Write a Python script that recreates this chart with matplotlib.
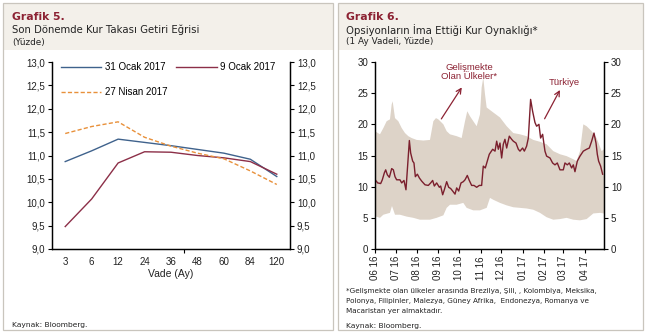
import numpy as np
import pandas as pd
import matplotlib
matplotlib.use('Agg')
import matplotlib.pyplot as plt
import matplotlib.dates as mdates
from matplotlib.patches import Rectangle
from matplotlib.ticker import FuncFormatter

# ---------------- data: Grafik 5 ----------------
maturities = ['3', '6', '12', '24', '36', '48', '60', '84', '120']
jan31 = [10.87, 11.10, 11.35, 11.28, 11.21, 11.13, 11.05, 10.92, 10.55]
jan09 = [9.48, 10.07, 10.84, 11.08, 11.07, 11.00, 10.95, 10.87, 10.60]
apr27 = [11.47, 11.62, 11.72, 11.39, 11.20, 11.05, 10.93, 10.67, 10.38]

# ---------------- data: Grafik 6 ----------------
start_date = '2016-06-01'
tr_days = [1.0, 3.9, 8.2, 10.6, 13.5, 15.5, 17.9, 20.8, 24.2, 26.6, 29.0, 31.4, 36.2, 38.7, 42.0,
           44.9, 47.4, 49.8, 51.7, 54.6, 56.5, 58.5, 61.4, 64.3, 67.6, 72.5, 77.3, 80.7, 83.6,
           86.0, 89.4, 93.3, 95.2, 98.1, 100.5, 103.9, 106.8, 109.7, 112.6, 116.0, 118.4, 121.3,
           124.7, 128.0, 130.5, 133.8, 136.7, 140.1, 143.5, 147.4, 151.2, 154.6, 157.0, 159.9,
           162.8, 165.7, 170.6, 174.0, 176.4, 178.8, 181.2, 183.6, 186.0, 188.4, 190.9, 194.7,
           198.1, 200.5, 204.4, 207.8, 210.2, 214.0, 216.5, 219.8, 222.3, 225.6, 228.5, 231.9,
           234.3, 237.7, 240.1, 243.0, 246.4, 248.8, 253.7, 257.5, 260.9, 264.3, 268.2, 273.0,
           275.4, 278.8, 281.7, 285.1, 287.5, 289.9, 293.3, 297.2, 302.0, 306.8, 310.7, 314.1,
           317.5, 320.4, 322.3, 324.2, 327.1, 330.0]
tr_vals = [11.0, 10.6, 10.5, 11.1, 12.2, 12.7, 11.9, 11.5, 12.9, 12.7, 11.6, 11.1, 11.1, 10.6, 11.0,
           9.5, 13.5, 17.4, 15.4, 14.1, 13.8, 11.6, 12.0, 11.4, 10.9, 10.3, 10.2, 10.6, 11.0,
           10.1, 10.6, 9.9, 10.1, 8.7, 9.5, 10.8, 9.9, 9.7, 9.3, 8.8, 9.8, 9.3,
           10.6, 10.8, 11.1, 11.8, 11.0, 10.2, 10.2, 9.9, 10.2, 10.2, 13.3, 13.0,
           14.1, 15.2, 16.0, 15.7, 17.3, 16.0, 17.0, 14.6, 16.8, 17.6, 16.2, 18.1,
           17.6, 17.3, 17.0, 16.0, 15.7, 16.2, 15.7, 16.5, 17.8, 24.0, 22.1, 20.3,
           19.7, 20.0, 17.8, 18.4, 15.7, 14.9, 14.6, 13.8, 13.5, 13.8, 12.7, 12.7,
           13.8, 13.5, 13.8, 13.0, 13.5, 12.4, 14.1, 14.9, 15.7, 16.0, 16.2, 17.3,
           18.6, 17.0, 15.2, 14.1, 13.3, 12.0]

up_days = [0.0, 1.4, 7.2, 12.1, 16.9, 21.7, 24.2, 25.6, 29.0, 33.8, 38.7, 43.5, 48.3, 53.2, 60.4,
           70.1, 79.7, 84.6, 88.4, 91.8, 99.1, 103.9, 108.7, 118.4, 125.6, 130.5, 133.8, 137.7,
           142.5, 147.4, 152.2, 154.6, 157.0, 159.5, 161.9, 171.5, 181.2, 190.9, 200.5, 210.2,
           219.8, 229.5, 239.2, 248.8, 258.5, 268.2, 277.8, 287.5, 292.3, 297.2, 302.0, 306.8,
           314.1, 321.3, 328.6, 332.0]
up_vals = [18.6, 18.8, 18.4, 19.4, 20.5, 20.8, 23.2, 23.7, 21.0, 20.5, 19.4, 18.6, 18.1, 17.8, 17.5,
           17.4, 17.5, 20.5, 21.0, 20.8, 20.0, 18.9, 18.4, 18.1, 17.8, 20.5, 22.1, 21.3,
           20.5, 19.7, 21.6, 25.9, 27.5, 24.8, 22.7, 21.9, 21.1, 19.7, 18.6, 18.4,
           18.1, 17.5, 17.2, 16.8, 15.7, 15.2, 14.9, 14.4, 14.1, 15.7, 20.0, 19.7,
           18.9, 17.8, 15.7, 16.0]

lo_days = [0.0, 1.4, 7.2, 12.1, 21.7, 24.6, 29.0, 36.2, 45.9, 55.6, 65.2, 79.7, 89.4, 99.1, 103.9,
           108.7, 118.4, 128.0, 132.9, 142.5, 152.2, 161.9, 166.7, 171.5, 181.2, 190.9, 200.5,
           210.2, 219.9, 229.5, 239.2, 248.8, 258.5, 268.2, 277.8, 287.5, 297.2, 306.8, 316.5,
           326.2, 332.0]
lo_vals = [5.3, 5.2, 5.0, 5.5, 5.8, 6.9, 5.5, 5.5, 5.2, 5.0, 4.7, 4.7, 5.0, 5.4, 6.6,
           7.1, 7.1, 7.4, 6.6, 6.2, 6.2, 6.6, 8.2, 7.9, 7.4, 7.0, 6.7,
           6.6, 6.5, 6.3, 5.8, 5.1, 4.7, 4.8, 5.0, 4.7, 4.6, 4.8, 5.7,
           5.8, 5.7]

month_ticks = pd.date_range('2016-06-01', '2017-04-01', freq='MS')
x_end_days = 332

# ---------------- styling ----------------
W, H = 647, 335
TITLE_RED = '#8c2233'
BORDER = '#c9c5bd'
HEADER = '#f3f0ea'
BAND = '#ddd3c8'
TR_COL = '#7b1f2d'
TEXT = '#222222'
TICKFONT = 'Liberation Sans'
TFONT = 'DejaVu Sans'

fig = plt.figure(figsize=(W / 100, H / 100), dpi=100)
fig.patch.set_facecolor('white')


def fx(x):
    return x / W


def fy(y):
    return 1 - y / H


# panel frames and headers
for (x0, x1) in [(3, 333), (338, 643)]:
    fig.add_artist(Rectangle((fx(x0), fy(50)), (x1 - x0) / W, 47 / H, transform=fig.transFigure,
                             fc=HEADER, ec='none', zorder=0))
    fig.add_artist(Rectangle((fx(x0), fy(330)), (x1 - x0) / W, 327 / H, transform=fig.transFigure,
                             fill=False, ec=BORDER, lw=0.9, zorder=1))

# titles
fig.text(fx(12), fy(17), 'Grafik 5.', color=TITLE_RED, fontsize=7.8, fontweight='bold',
         family=TFONT, va='center')
fig.text(fx(12), fy(30), 'Son Dönemde Kur Takası Getiri Eğrisi', color=TEXT, fontsize=7.3,
         family=TFONT, va='center')
fig.text(fx(12), fy(42), '(Yüzde)', color=TEXT, fontsize=6.4, family=TFONT, va='center')
fig.text(fx(346), fy(17), 'Grafik 6.', color=TITLE_RED, fontsize=7.8, fontweight='bold',
         family=TFONT, va='center')
fig.text(fx(346), fy(30), 'Opsiyonların İma Ettiği Kur Oynaklığı*', color=TEXT, fontsize=7.3,
         family=TFONT, va='center')
fig.text(fx(346), fy(42), '(1 Ay Vadeli, Yüzde)', color=TEXT, fontsize=6.4, family=TFONT,
         va='center')

fig.text(fx(12), fy(325), 'Kaynak: Bloomberg.', color=TEXT, fontsize=5.4, family=TFONT,
         va='center')
foot = ('*Gelişmekte olan ülkeler arasında Brezilya, Şili, , Kolombiya, Meksika,\n'
        'Polonya, Filipinler, Malezya, Güney Afrika,  Endonezya, Romanya ve\n'
        'Macaristan yer almaktadır.')
fig.text(fx(346), fy(288), foot, color=TEXT, fontsize=5.2, family=TFONT, va='top',
         linespacing=1.85)
fig.text(fx(346), fy(326), 'Kaynak: Bloomberg.', color=TEXT, fontsize=5.4, family=TFONT,
         va='center')

comma = FuncFormatter(lambda v, p: f'{v:.1f}'.replace('.', ','))


def style_axes(ax, axr):
    for a in (ax, axr):
        a.set_facecolor('none')
        a.spines['top'].set_visible(False)
        for s in ('left', 'right', 'bottom'):
            a.spines[s].set_linewidth(0.9)
            a.spines[s].set_color('black')
    ax.tick_params(axis='y', direction='out', length=3, width=0.8, labelsize=7, pad=2,
                   labelcolor=TEXT)
    axr.tick_params(axis='y', direction='out', length=3, width=0.8, labelsize=7, pad=2,
                    labelcolor=TEXT)
    for lab in ax.get_yticklabels() + axr.get_yticklabels():
        lab.set_family(TICKFONT)


# ---------------- Grafik 5 ----------------
ax1 = fig.add_axes([fx(52), fy(249), 238 / W, 187 / H])
x = np.arange(len(maturities))
l1, = ax1.plot(x, jan31, color='#3f628c', lw=1.0, label='31 Ocak 2017')
l2, = ax1.plot(x, jan09, color='#8c2f48', lw=1.0, label='9 Ocak 2017')
l3, = ax1.plot(x, apr27, color='#e8903a', lw=1.0, ls=(0, (3, 1.6)), label='27 Nisan 2017')
ax1.set_xlim(-0.5, len(maturities) - 0.5)
ax1.set_ylim(9, 13)
yt = np.arange(9, 13.01, 0.5)
ax1.set_yticks(yt)
ax1.yaxis.set_major_formatter(comma)
ax1r = ax1.twinx()
ax1r.set_ylim(9, 13)
ax1r.set_yticks(yt)
ax1r.yaxis.set_major_formatter(comma)
style_axes(ax1, ax1r)
ax1.set_xticks(x)
ax1.set_xticklabels(maturities, family=TICKFONT, fontsize=7, color=TEXT)
ax1.tick_params(axis='x', which='major', length=0, pad=6)
ax1.set_xticks([4.5], minor=True)
ax1.tick_params(axis='x', which='minor', direction='out', length=3, width=0.8)
ax1.set_xlabel('Vade (Ay)', family=TICKFONT, fontsize=7.5, color=TEXT, labelpad=1)
leg = ax1.legend(handles=[l1, l3, l2], ncol=2, loc='upper left', frameon=False,
                 prop={'family': TICKFONT, 'size': 7}, handlelength=4.2, handletextpad=0.35,
                 columnspacing=0.9, labelspacing=1.55, borderaxespad=0.0,
                 bbox_to_anchor=(0.02, 1.02))

# ---------------- Grafik 6 ----------------
ax2 = fig.add_axes([fx(375), fy(249), 229 / W, 187 / H])
base = pd.Timestamp(start_date)
tr_x = mdates.date2num(base + pd.to_timedelta(tr_days, unit='D'))
up_x = mdates.date2num(base + pd.to_timedelta(up_days, unit='D'))
lo_x = mdates.date2num(base + pd.to_timedelta(lo_days, unit='D'))
ax2.fill(np.concatenate([up_x, lo_x[::-1]]), np.concatenate([up_vals, lo_vals[::-1]]),
         color=BAND, lw=0, zorder=1)
ax2.plot(tr_x, tr_vals, color=TR_COL, lw=1.0, zorder=3)
x0 = mdates.date2num(base)
ax2.set_xlim(x0, x0 + x_end_days)
ax2.set_ylim(0, 30)
yt2 = np.arange(0, 31, 5)
ax2.set_yticks(yt2)
ax2r = ax2.twinx()
ax2r.set_ylim(0, 30)
ax2r.set_yticks(yt2)
style_axes(ax2, ax2r)
ax2.set_xticks(mdates.date2num(month_ticks))
ax2.set_xticklabels([d.strftime('%m %y') for d in month_ticks], rotation=90,
                    family=TICKFONT, fontsize=7, color=TEXT)
ax2.tick_params(axis='x', direction='out', length=3, width=0.8, pad=2)

ann_col = '#8c2233'
ax2.annotate('', xy=(x0 + 128, 26.3), xytext=(x0 + 94, 20.5),
             arrowprops=dict(arrowstyle='->', color=ann_col, lw=0.9, mutation_scale=9),
             zorder=4)
ax2.text(x0 + 137, 28.4, 'Gelişmekte\nOlan Ülkeler*', color=ann_col, fontsize=6.8,
         family=TICKFONT, ha='center', va='center', linespacing=1.1, zorder=4)
ax2.annotate('', xy=(x0 + 270, 25.9), xytext=(x0 + 244, 20.5),
             arrowprops=dict(arrowstyle='->', color=ann_col, lw=0.9, mutation_scale=9),
             zorder=4)
ax2.text(x0 + 274, 26.7, 'Türkiye', color=ann_col, fontsize=6.8, family=TICKFONT,
         ha='center', va='center', zorder=4)

fig.savefig('out.png', dpi=100, facecolor='white')
